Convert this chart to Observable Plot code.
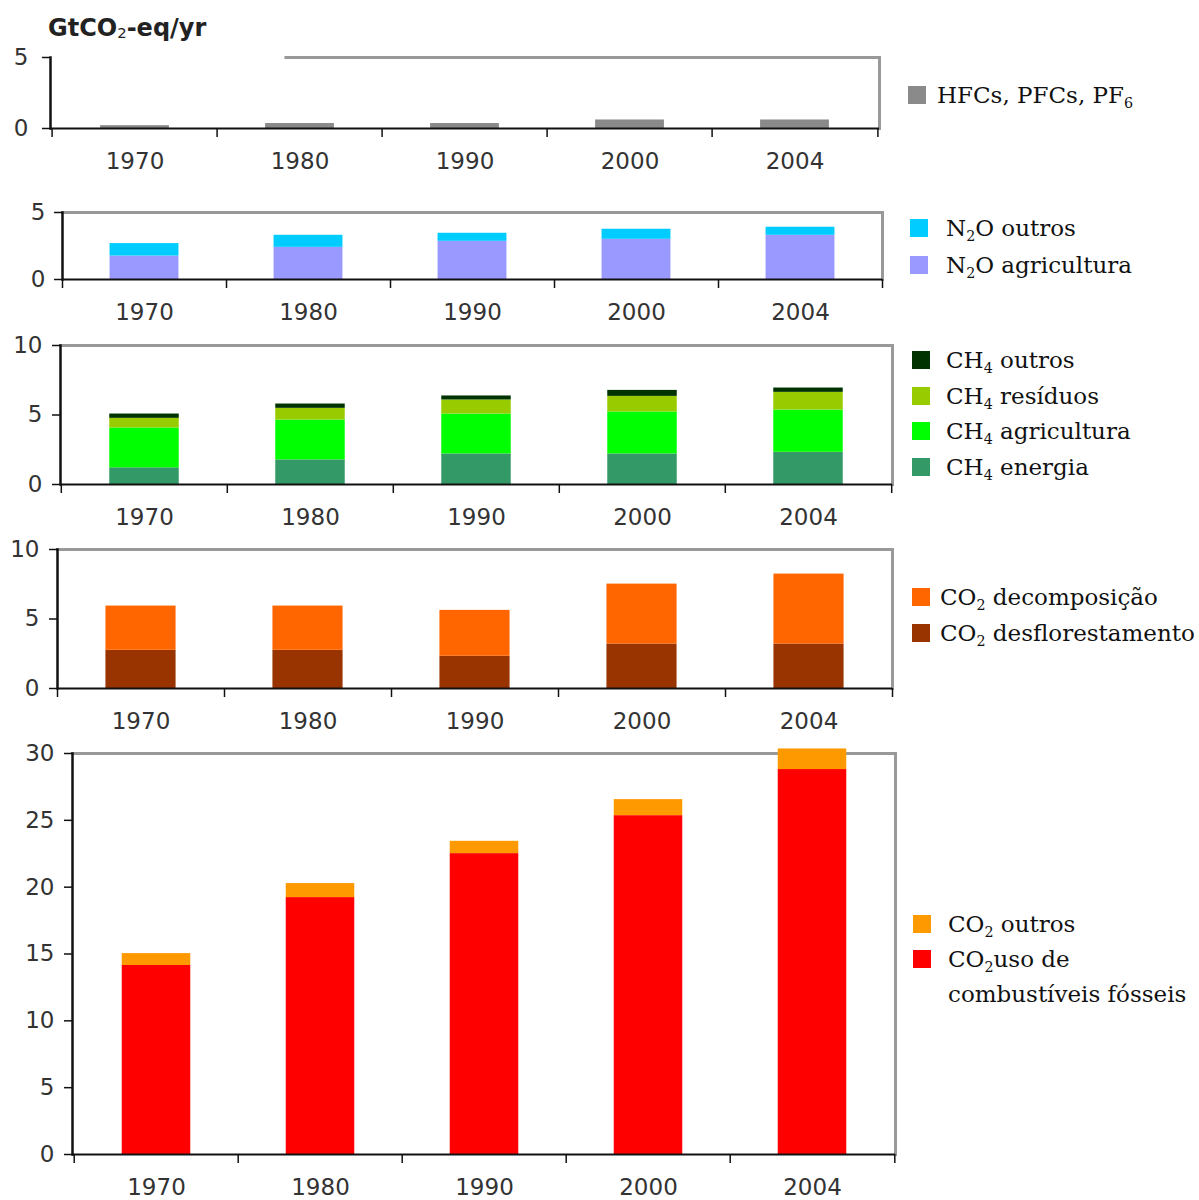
<!DOCTYPE html>
<html>
<head>
<meta charset="utf-8">
<script src="https://cdn.jsdelivr.net/npm/d3@7"></script>
<script src="https://cdn.jsdelivr.net/npm/@observablehq/plot@0.6"></script>
<style>
  html, body { margin: 0; padding: 0; background: #fff; }
  #root { position: relative; width: 1199px; height: 1200px; overflow: hidden; background: #fff; }
  .panel { position: absolute; left: 0; }
  .title { position: absolute; left: 48px; top: 12px; font-family: "DejaVu Sans", sans-serif; font-weight: bold; font-size: 24px; color: #222; line-height: 32px; white-space: nowrap; }
  .title sub { font-size: 0.62em; font-weight: normal; vertical-align: -0.15em; }
  .lg { position: absolute; height: 30px; display: flex; align-items: center; font-family: "DejaVu Serif", serif; font-size: 23px; color: #111; white-space: nowrap; }
  .lg .sw { position: absolute; width: 18px; height: 18px; top: 6px; }
  .lg .tx { position: absolute; top: 0; line-height: 30px; }
  .lg sub { font-size: 0.62em; vertical-align: -0.35em; line-height: 0; }
</style>
</head>
<body>
<div id="root"></div>
<script>
// ---------- data ----------
const years = ["1970", "1980", "1990", "2000", "2004"];

const hfc          = [0.2, 0.35, 0.35, 0.6, 0.6];

const n2oAgricultura = [1.75, 2.4, 2.85, 3.0, 3.3];
const n2oOutros      = [0.93, 0.9, 0.6, 0.75, 0.6];

const ch4Energia     = [1.2, 1.77, 2.2, 2.2, 2.32];
const ch4Agricultura = [2.87, 2.87, 2.87, 3.02, 3.04];
const ch4Residuos    = [0.69, 0.84, 1.01, 1.12, 1.27];
const ch4Outros      = [0.31, 0.31, 0.29, 0.43, 0.31];

const co2Desflorestamento = [2.75, 2.75, 2.32, 3.2, 3.2];
const co2Decomposicao     = [3.18, 3.18, 3.3, 4.31, 5.03];

const co2Fosseis = [14.14, 19.22, 22.51, 25.35, 28.8];
const co2Outros  = [0.89, 1.05, 0.92, 1.2, 1.54];

const yTicks1 = [0, 5];
const yTicks2 = [0, 5];
const yTicks3 = [0, 5, 10];
const yTicks4 = [0, 5, 10];
const yTicks5 = [0, 5, 10, 15, 20, 25, 30];

// ---------- panels ----------
const panels = [
  { top: 47, ml: 50, right: 879, plotH: 71, mb: 50, max: 5, ticks: yTicks1, yPad: 14, partialTop: true,
    series: [{name: "HFCs, PFCs, PF6", values: hfc, color: "#8a8a8a"}] },
  { top: 202, ml: 62, right: 882, plotH: 67, mb: 50, max: 5, ticks: yTicks2, yPad: 9,
    series: [{name: "N2O agricultura", values: n2oAgricultura, color: "#9999ff"},
             {name: "N2O outros", values: n2oOutros, color: "#00ccff"}] },
  { top: 335, ml: 60, right: 892, plotH: 139, mb: 50, max: 10, ticks: yTicks3, yPad: 10,
    series: [{name: "CH4 energia", values: ch4Energia, color: "#339966"},
             {name: "CH4 agricultura", values: ch4Agricultura, color: "#00ff00"},
             {name: "CH4 resíduos", values: ch4Residuos, color: "#99cc00"},
             {name: "CH4 outros", values: ch4Outros, color: "#003300"}] },
  { top: 539, ml: 57, right: 892, plotH: 139, mb: 50, max: 10, ticks: yTicks4, yPad: 10,
    series: [{name: "CO2 desflorestamento", values: co2Desflorestamento, color: "#993300"},
             {name: "CO2 decomposição", values: co2Decomposicao, color: "#ff6600"}] },
  { top: 743, ml: 72, right: 895, plotH: 401, mb: 46, max: 30, ticks: yTicks5, yPad: 10,
    series: [{name: "CO2 fósseis", values: co2Fosseis, color: "#ff0000"},
             {name: "CO2 outros", values: co2Outros, color: "#ff9900"}] }
];

const root = document.getElementById("root");

const title = document.createElement("div");
title.className = "title";
title.innerHTML = "GtCO<sub>2</sub>-eq/yr";
root.appendChild(title);

for (const p of panels) {
  const mr = 10, mt = 10;
  const width = p.right + mr;
  const height = mt + p.plotH + p.mb;
  const bw = (p.right - p.ml) / years.length;
  const inset = bw * 0.29;
  const rows = years.flatMap((yr, i) => p.series.map(s => ({year: yr, key: s.name, value: s.values[i]})));

  const marks = [
    p.partialTop
      ? Plot.frame({anchor: "top", stroke: "#999", strokeWidth: 3, insetLeft: bw * 1.42})
      : Plot.frame({anchor: "top", stroke: "#999", strokeWidth: 3}),
    Plot.frame({anchor: "right", stroke: "#999", strokeWidth: 3}),
    Plot.barY(rows, {x: "year", y: "value", fill: "key", insetLeft: inset, insetRight: inset}),
    Plot.ruleY([0], {stroke: "#111", strokeWidth: 2}),
    Plot.frame({anchor: "left", stroke: "#111", strokeWidth: 2.5}),
    Plot.axisX({ticks: years, tickSize: 9, tickFormat: () => "", dx: -bw / 2, stroke: "#111", strokeWidth: 1.5, label: null}),
    Plot.axisX({ticks: [years[years.length - 1]], tickSize: 9, tickFormat: () => "", dx: bw / 2, stroke: "#111", strokeWidth: 1.5, label: null}),
    Plot.axisX({ticks: years, tickSize: 0, tickPadding: 24, label: null}),
    Plot.axisY({ticks: p.ticks, tickSize: 8, tickPadding: p.yPad, tickFormat: d => String(d), stroke: "#111", strokeWidth: 1.5, label: null})
  ];

  const chart = Plot.plot({
    width, height,
    marginLeft: p.ml, marginRight: mr, marginTop: mt, marginBottom: p.mb,
    style: {fontFamily: "DejaVu Sans, sans-serif", fontSize: "23px", color: "#333", background: "transparent", overflow: "visible"},
    x: {domain: years, padding: 0, axis: null, label: null},
    y: {domain: [0, p.max], axis: null, label: null},
    color: {domain: p.series.map(s => s.name), range: p.series.map(s => s.color)},
    marks
  });
  chart.classList.add("panel");
  chart.style.top = p.top + "px";
  root.appendChild(chart);
}

// ---------- legends ----------
const legendItems = [
  {x: 908, tx: 937, y: 95,  color: "#8a8a8a", html: "HFCs, PFCs, PF<sub>6</sub>"},
  {x: 910, tx: 946, y: 228, color: "#00ccff", html: "N<sub>2</sub>O outros"},
  {x: 910, tx: 946, y: 265, color: "#9999ff", html: "N<sub>2</sub>O agricultura"},
  {x: 912, tx: 946, y: 360, color: "#003300", html: "CH<sub>4</sub> outros"},
  {x: 912, tx: 946, y: 396, color: "#99cc00", html: "CH<sub>4</sub> resíduos"},
  {x: 912, tx: 946, y: 431, color: "#00ff00", html: "CH<sub>4</sub> agricultura"},
  {x: 912, tx: 946, y: 467, color: "#339966", html: "CH<sub>4</sub> energia"},
  {x: 912, tx: 940, y: 597, color: "#ff6600", html: "CO<sub>2</sub> decomposição"},
  {x: 912, tx: 940, y: 633, color: "#993300", html: "CO<sub>2</sub> desflorestamento"},
  {x: 913, tx: 948, y: 924, color: "#ff9900", html: "CO<sub>2</sub> outros"},
  {x: 913, tx: 948, y: 959, color: "#ff0000", html: "CO<sub>2</sub>uso de"},
  {x: null, tx: 948, y: 994, color: null, html: "combustíveis fósseis"}
];
for (const it of legendItems) {
  const d = document.createElement("div");
  d.className = "lg";
  d.style.left = "0px";
  d.style.top = (it.y - 15) + "px";
  if (it.color) {
    const sw = document.createElement("div");
    sw.className = "sw";
    sw.style.left = it.x + "px";
    sw.style.background = it.color;
    d.appendChild(sw);
  }
  const t = document.createElement("div");
  t.className = "tx";
  t.style.left = it.tx + "px";
  t.innerHTML = it.html;
  d.appendChild(t);
  root.appendChild(d);
}
</script>
</body>
</html>
